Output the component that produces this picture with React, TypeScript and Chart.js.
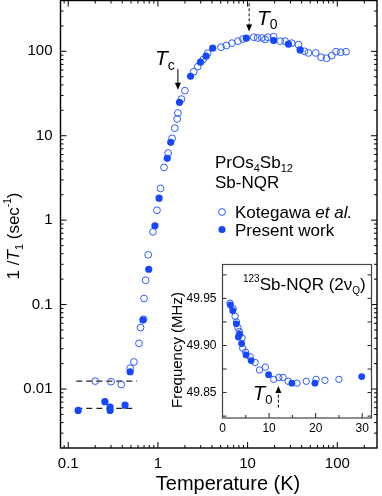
import React, { useEffect, useRef } from 'react';
import { Chart, registerables } from 'chart.js';
Chart.register(...registerables);

const W = 382;
const H = 496;
const FONT = '"Liberation Sans", Arial, Helvetica, sans-serif';
const FILL_BLUE = '#1447ff';
const OPEN_BLUE = '#2a5cff';

// ---------- main plot data: 1/T1 vs Temperature ----------
const kotegawaT = [0.2, 0.3, 0.39, 0.49, 0.54, 0.615, 0.64, 0.69, 0.7, 0.73, 0.78,
  0.88, 0.975, 1.07, 1.17, 1.3, 1.44, 1.54, 1.64, 1.67, 1.83, 2.0, 2.51, 2.78, 3.19, 3.59,
  5.05, 5.8, 6.69, 7.8, 8.87, 11.7, 12.9, 14.4, 15.7, 16.8, 19.5, 23.1, 26.2, 31, 36.9,
  43, 47.6, 57.4, 65.9, 76, 86.5, 96.8, 109, 125];
const kotegawaRate = [0.0124, 0.0122, 0.0113, 0.0176, 0.0209, 0.0347, 0.0533, 0.067, 0.118, 0.194, 0.388,
  0.727, 1.31, 2.38, 4.22, 6.24, 9.31, 12.3, 15.8, 18.6, 27.2, 34.2, 57.4, 65.9, 79.8, 94.9,
  112, 117, 125, 132, 140, 147, 144, 144, 138, 147, 149, 132, 132, 125, 120,
  100, 95.7, 95.7, 85.1, 82.8, 88.9, 99.1, 97.5, 99];

const presentT = [0.129, 0.256, 0.293, 0.293, 0.43, 0.49, 0.68, 0.79, 0.926, 1.03, 1.27, 1.39,
  1.74, 2.31, 2.98, 3.44, 4.08, 9.68, 19.5, 28.5, 38.5];
const presentRate = [0.00557, 0.00707, 0.00557, 0.0061, 0.00644, 0.016, 0.0657, 0.262, 0.856, 1.82, 5.4, 8.35,
  24.9, 50.7, 74.3, 87.5, 109, 143, 134, 122, 104];

const dashUpperT = [0.123, 0.585];
const dashUpperRate = [0.0124, 0.0124];
const dashLowerT = [0.123, 0.57];
const dashLowerRate = [0.0059, 0.0059];

const xTickValues = [0.1, 1, 10, 100];
const xTickLabels = ['0.1', '1', '10', '100'];
const yTickValues = [0.01, 0.1, 1, 10, 100];
const yTickLabels = ['0.01', '0.1', '1', '10', '100'];

// annotation arrows (data coordinates)
const tcArrowT = 1.67;
const tcArrowRate = [62, 35];
const t0ArrowT = 10.4;
const t0ArrowRate = [370, 172];

// ---------- inset data: frequency vs Temperature ----------
const insetKoteT = [1.6, 2.3, 2.7, 3.0, 3.3, 3.6, 4.2, 4.35, 4.95, 5.95, 7.0, 7.95, 9.2, 11.0,
  12.1, 13.0, 14.1, 16.0, 18.0, 20.1, 22.0, 25.0];
const insetKoteF = [49.945, 49.939, 49.931, 49.925, 49.919, 49.915, 49.908, 49.897, 49.893, 49.888,
  49.882, 49.874, 49.877, 49.864, 49.866, 49.866, 49.862, 49.860, 49.862, 49.864, 49.863, 49.864];
const insetPresentT = [1.7, 2.2, 2.97, 3.4, 3.7, 4.11, 5.06, 6.15, 9.9, 14.9, 19.85, 29.9];
const insetPresentF = [49.943, 49.937, 49.923, 49.909, 49.912, 49.902, 49.890, 49.884, 49.869,
  49.860, 49.860, 49.867];

const insetXTickValues = [0, 10, 20, 30];
const insetXTickLabels = ['0', '10', '20', '30'];
const insetYTickValues = [49.85, 49.9, 49.95];
const insetYTickLabels = ['49.85', '49.90', '49.95'];
const insetArrowT = 12.0;
const insetArrowF = [49.834, 49.857];

const pts = (xs: number[], ys: number[]) => xs.map((x, i) => ({ x, y: ys[i] }));

function logMinor(min: number, max: number) {
  const out: number[] = [];
  for (let e = Math.floor(Math.log10(min)); e <= Math.ceil(Math.log10(max)); e++) {
    for (let m = 2; m <= 9; m++) {
      const v = m * Math.pow(10, e);
      if (v > min && v < max) out.push(v);
    }
  }
  return out;
}

type Part = { t: string; f: string; dy?: number };
function drawRich(ctx: CanvasRenderingContext2D, parts: Part[], x: number, y: number, align: 'left' | 'center') {
  let total = 0;
  for (const p of parts) {
    ctx.font = p.f;
    total += ctx.measureText(p.t).width;
  }
  let cx = align === 'center' ? x - total / 2 : x;
  ctx.textAlign = 'left';
  ctx.textBaseline = 'alphabetic';
  for (const p of parts) {
    ctx.font = p.f;
    ctx.fillText(p.t, cx, y + (p.dy || 0));
    cx += ctx.measureText(p.t).width;
  }
}

function arrow(ctx: CanvasRenderingContext2D, x: number, y0: number, y1: number, dashed: boolean) {
  ctx.save();
  ctx.strokeStyle = '#000';
  ctx.fillStyle = '#000';
  ctx.lineWidth = 1;
  const dir = Math.sign(y1 - y0);
  if (dashed) ctx.setLineDash([3, 2]);
  ctx.beginPath();
  ctx.moveTo(x, y0);
  ctx.lineTo(x, y1 - dir * 6);
  ctx.stroke();
  ctx.setLineDash([]);
  ctx.beginPath();
  ctx.moveTo(x, y1);
  ctx.lineTo(x - 3, y1 - dir * 7);
  ctx.lineTo(x + 3, y1 - dir * 7);
  ctx.closePath();
  ctx.fill();
  ctx.restore();
}

function line(ctx: CanvasRenderingContext2D, x0: number, y0: number, x1: number, y1: number) {
  ctx.beginPath();
  ctx.moveTo(x0, y0);
  ctx.lineTo(x1, y1);
  ctx.stroke();
}

const noPad = (s: any) => {
  s.paddingTop = 0;
  s.paddingBottom = 0;
  s.paddingLeft = 0;
  s.paddingRight = 0;
};

const mainDecor = {
  id: 'mainDecor',
  afterDatasetsDraw(chart: any) {
    const ctx: CanvasRenderingContext2D = chart.ctx;
    const ca = chart.chartArea;
    const xs = chart.scales.x;
    const ys = chart.scales.y;
    ctx.save();
    ctx.strokeStyle = '#000';
    ctx.lineWidth = 1;
    // inward ticks, all four sides
    const xMinor = logMinor(xs.min, xs.max);
    const yMinor = logMinor(ys.min, ys.max);
    for (const v of xTickValues) {
      const p = xs.getPixelForValue(v);
      line(ctx, p, ca.bottom, p, ca.bottom - 6);
      line(ctx, p, ca.top, p, ca.top + 6);
    }
    for (const v of xMinor) {
      const p = xs.getPixelForValue(v);
      line(ctx, p, ca.bottom, p, ca.bottom - 3);
      line(ctx, p, ca.top, p, ca.top + 3);
    }
    for (const v of yTickValues) {
      const p = ys.getPixelForValue(v);
      line(ctx, ca.left, p, ca.left + 6, p);
      line(ctx, ca.right, p, ca.right - 6, p);
    }
    for (const v of yMinor) {
      const p = ys.getPixelForValue(v);
      line(ctx, ca.left, p, ca.left + 3, p);
      line(ctx, ca.right, p, ca.right - 3, p);
    }
    ctx.lineWidth = 1.4;
    ctx.strokeRect(ca.left, ca.top, ca.right - ca.left, ca.bottom - ca.top);

    // arrows
    arrow(ctx, xs.getPixelForValue(tcArrowT), ys.getPixelForValue(tcArrowRate[0]), ys.getPixelForValue(tcArrowRate[1]), false);
    arrow(ctx, xs.getPixelForValue(t0ArrowT), ys.getPixelForValue(t0ArrowRate[0]), ys.getPixelForValue(t0ArrowRate[1]), true);

    ctx.fillStyle = '#000';
    // Tc and T0 labels
    drawRich(ctx, [
      { t: 'T', f: `italic 21px ${FONT}` },
      { t: 'c', f: `14px ${FONT}`, dy: 5 },
    ], 155, 65, 'left');
    drawRich(ctx, [
      { t: 'T', f: `italic 21px ${FONT}` },
      { t: '0', f: `14px ${FONT}`, dy: 4 },
    ], 257, 25, 'left');

    // compound label
    drawRich(ctx, [
      { t: 'PrOs', f: `17px ${FONT}` },
      { t: '4', f: `11px ${FONT}`, dy: 4 },
      { t: 'Sb', f: `17px ${FONT}` },
      { t: '12', f: `11px ${FONT}`, dy: 4 },
    ], 215, 168, 'left');
    drawRich(ctx, [{ t: 'Sb-NQR', f: `17px ${FONT}` }], 215, 188, 'left');

    // legend
    ctx.lineWidth = 1;
    ctx.strokeStyle = OPEN_BLUE;
    ctx.beginPath();
    ctx.arc(222, 212, 3.4, 0, Math.PI * 2);
    ctx.stroke();
    ctx.fillStyle = FILL_BLUE;
    ctx.beginPath();
    ctx.arc(222, 229.5, 3.6, 0, Math.PI * 2);
    ctx.fill();
    ctx.fillStyle = '#000';
    drawRich(ctx, [
      { t: 'Kotegawa ', f: `17px ${FONT}` },
      { t: 'et al.', f: `italic 17px ${FONT}` },
    ], 235, 218, 'left');
    drawRich(ctx, [{ t: 'Present work', f: `17px ${FONT}` }], 235, 235.5, 'left');

    // axis titles
    drawRich(ctx, [{ t: 'Temperature (K)', f: `20px ${FONT}` }], 228, 490, 'center');
    ctx.save();
    ctx.translate(19, 236);
    ctx.rotate(-Math.PI / 2);
    drawRich(ctx, [
      { t: '1 /', f: `17px ${FONT}` },
      { t: 'T', f: `italic 17px ${FONT}` },
      { t: '1', f: `11px ${FONT}`, dy: 4 },
      { t: ' (sec', f: `17px ${FONT}` },
      { t: '-1', f: `10px ${FONT}`, dy: -8 },
      { t: ')', f: `17px ${FONT}` },
    ], 0, 0, 'center');
    ctx.restore();
    ctx.restore();
  },
};

const insetDecor = {
  id: 'insetDecor',
  afterDatasetsDraw(chart: any) {
    const ctx: CanvasRenderingContext2D = chart.ctx;
    const ca = chart.chartArea;
    const xs = chart.scales.x;
    const ys = chart.scales.y;
    ctx.save();
    ctx.strokeStyle = '#222';
    ctx.lineWidth = 1;
    for (let v = 0; v <= xs.max; v += 5) {
      const p = xs.getPixelForValue(v);
      const len = v % 10 === 0 ? 5 : 3;
      line(ctx, p, ca.bottom, p, ca.bottom - len);
    }
    for (let k = 0; ; k++) {
      const v = 49.825 + k * 0.025;
      if (v > ys.max) break;
      if (v < ys.min) continue;
      const p = ys.getPixelForValue(v);
      line(ctx, ca.left, p, ca.left + 4, p);
      line(ctx, ca.right, p, ca.right - 4, p);
    }
    ctx.strokeStyle = '#444';
    ctx.lineWidth = 1.2;
    ctx.strokeRect(ca.left, ca.top, ca.right - ca.left, ca.bottom - ca.top);

    arrow(ctx, xs.getPixelForValue(insetArrowT), ys.getPixelForValue(insetArrowF[0]), ys.getPixelForValue(insetArrowF[1]), true);

    ctx.fillStyle = '#000';
    drawRich(ctx, [
      { t: 'T', f: `italic 20px ${FONT}` },
      { t: '0', f: `13px ${FONT}`, dy: 4 },
    ], 103, 145, 'left');

    drawRich(ctx, [
      { t: '123', f: `10px ${FONT}`, dy: -8 },
      { t: 'Sb-NQR (2\u03bd', f: `17px ${FONT}` },
      { t: 'Q', f: `10px ${FONT}`, dy: 4 },
      { t: ')', f: `17px ${FONT}` },
    ], 93, 35, 'left');

    ctx.save();
    ctx.translate(32, 95);
    ctx.rotate(-Math.PI / 2);
    drawRich(ctx, [{ t: 'Frequency (MHz)', f: `15px ${FONT}` }], 0, 0, 'center');
    ctx.restore();
    ctx.restore();
  },
};

function mainConfig(): any {
  return {
    type: 'scatter',
    data: {
      datasets: [
        {
          label: 'Present work',
          data: pts(presentT, presentRate),
          pointRadius: 3.6,
          pointBackgroundColor: FILL_BLUE,
          pointBorderColor: FILL_BLUE,
          pointBorderWidth: 0,
          showLine: false,
          order: 0,
        },
        {
          label: 'Kotegawa et al.',
          data: pts(kotegawaT, kotegawaRate),
          pointRadius: 3.4,
          pointBackgroundColor: 'rgba(255,255,255,0)',
          pointBorderColor: OPEN_BLUE,
          pointBorderWidth: 1,
          showLine: false,
          order: 1,
        },
        {
          type: 'line',
          data: pts(dashUpperT, dashUpperRate),
          borderColor: '#222',
          borderWidth: 1.2,
          borderDash: [6, 4],
          pointRadius: 0,
          showLine: true,
          order: 2,
        },
        {
          type: 'line',
          data: pts(dashLowerT, dashLowerRate),
          borderColor: '#222',
          borderWidth: 1.2,
          borderDash: [6, 4],
          pointRadius: 0,
          showLine: true,
          order: 2,
        },
      ],
    },
    options: {
      animation: false,
      responsive: false,
      devicePixelRatio: 1,
      events: [],
      layout: { autoPadding: false, padding: { top: 0.5, right: 5, left: 0, bottom: 0 } },
      plugins: { legend: { display: false }, tooltip: { enabled: false } },
      scales: {
        x: {
          type: 'logarithmic',
          position: 'bottom',
          min: 0.082,
          max: 277,
          afterBuildTicks: (s: any) => { s.ticks = xTickValues.map((v) => ({ value: v })); },
          afterFit: (s: any) => { s.height = 48; noPad(s); },
          ticks: {
            callback: (_v: any, i: number) => xTickLabels[i],
            font: { family: FONT, size: 15 },
            color: '#000',
            padding: 7,
            maxRotation: 0,
            autoSkip: false,
          },
          grid: { display: false, drawTicks: false },
          border: { display: false },
        },
        y: {
          type: 'logarithmic',
          position: 'left',
          min: 0.002,
          max: 400,
          afterBuildTicks: (s: any) => { s.ticks = yTickValues.map((v) => ({ value: v })); },
          afterFit: (s: any) => { s.width = 60.5; noPad(s); },
          ticks: {
            callback: (_v: any, i: number) => yTickLabels[i],
            font: { family: FONT, size: 15 },
            color: '#000',
            padding: 8,
            autoSkip: false,
          },
          grid: { display: false, drawTicks: false },
          border: { display: false },
        },
      },
    },
    plugins: [mainDecor],
  };
}

function insetConfig(): any {
  return {
    type: 'scatter',
    data: {
      datasets: [
        {
          label: 'Present work',
          data: pts(insetPresentT, insetPresentF),
          pointRadius: 3.4,
          pointBackgroundColor: FILL_BLUE,
          pointBorderColor: FILL_BLUE,
          pointBorderWidth: 0,
          order: 0,
        },
        {
          label: 'Kotegawa et al.',
          data: pts(insetKoteT, insetKoteF),
          pointRadius: 3.2,
          pointBackgroundColor: 'rgba(255,255,255,0)',
          pointBorderColor: OPEN_BLUE,
          pointBorderWidth: 1,
          order: 1,
        },
      ],
    },
    options: {
      animation: false,
      responsive: false,
      devicePixelRatio: 1,
      events: [],
      layout: { autoPadding: false, padding: { top: 9.5, right: 6.5, left: 0, bottom: 0 } },
      plugins: { legend: { display: false }, tooltip: { enabled: false } },
      scales: {
        x: {
          type: 'linear',
          min: 0,
          max: 32,
          afterBuildTicks: (s: any) => { s.ticks = insetXTickValues.map((v) => ({ value: v })); },
          afterFit: (s: any) => { s.height = 22; noPad(s); },
          ticks: {
            callback: (_v: any, i: number) => insetXTickLabels[i],
            font: { family: FONT, size: 12 },
            color: '#000',
            padding: 3,
            maxRotation: 0,
            autoSkip: false,
          },
          grid: { display: false, drawTicks: false },
          border: { display: false },
        },
        y: {
          type: 'linear',
          min: 49.823,
          max: 49.986,
          afterBuildTicks: (s: any) => { s.ticks = insetYTickValues.map((v) => ({ value: v })); },
          afterFit: (s: any) => { s.width = 72.5; noPad(s); },
          ticks: {
            callback: (_v: any, i: number) => insetYTickLabels[i],
            font: { family: FONT, size: 12 },
            color: '#000',
            padding: 6,
            autoSkip: false,
          },
          grid: { display: false, drawTicks: false },
          border: { display: false },
        },
      },
    },
    plugins: [insetDecor],
  };
}

export default function App() {
  const mainRef = useRef<HTMLCanvasElement>(null);
  const insetRef = useRef<HTMLCanvasElement>(null);
  useEffect(() => {
    const c1 = new Chart(mainRef.current as HTMLCanvasElement, mainConfig());
    const c2 = new Chart(insetRef.current as HTMLCanvasElement, insetConfig());
    return () => {
      c1.destroy();
      c2.destroy();
    };
  }, []);
  return (
    <div style={{ position: 'fixed', left: 0, top: 0, width: W, height: H, background: '#fff', overflow: 'hidden' }}>
      <canvas ref={mainRef} width={W} height={H} style={{ position: 'absolute', left: 0, top: 0, width: W, height: H }} />
      <canvas ref={insetRef} width={228} height={185} style={{ position: 'absolute', left: 150, top: 255, width: 228, height: 185 }} />
    </div>
  );
}
